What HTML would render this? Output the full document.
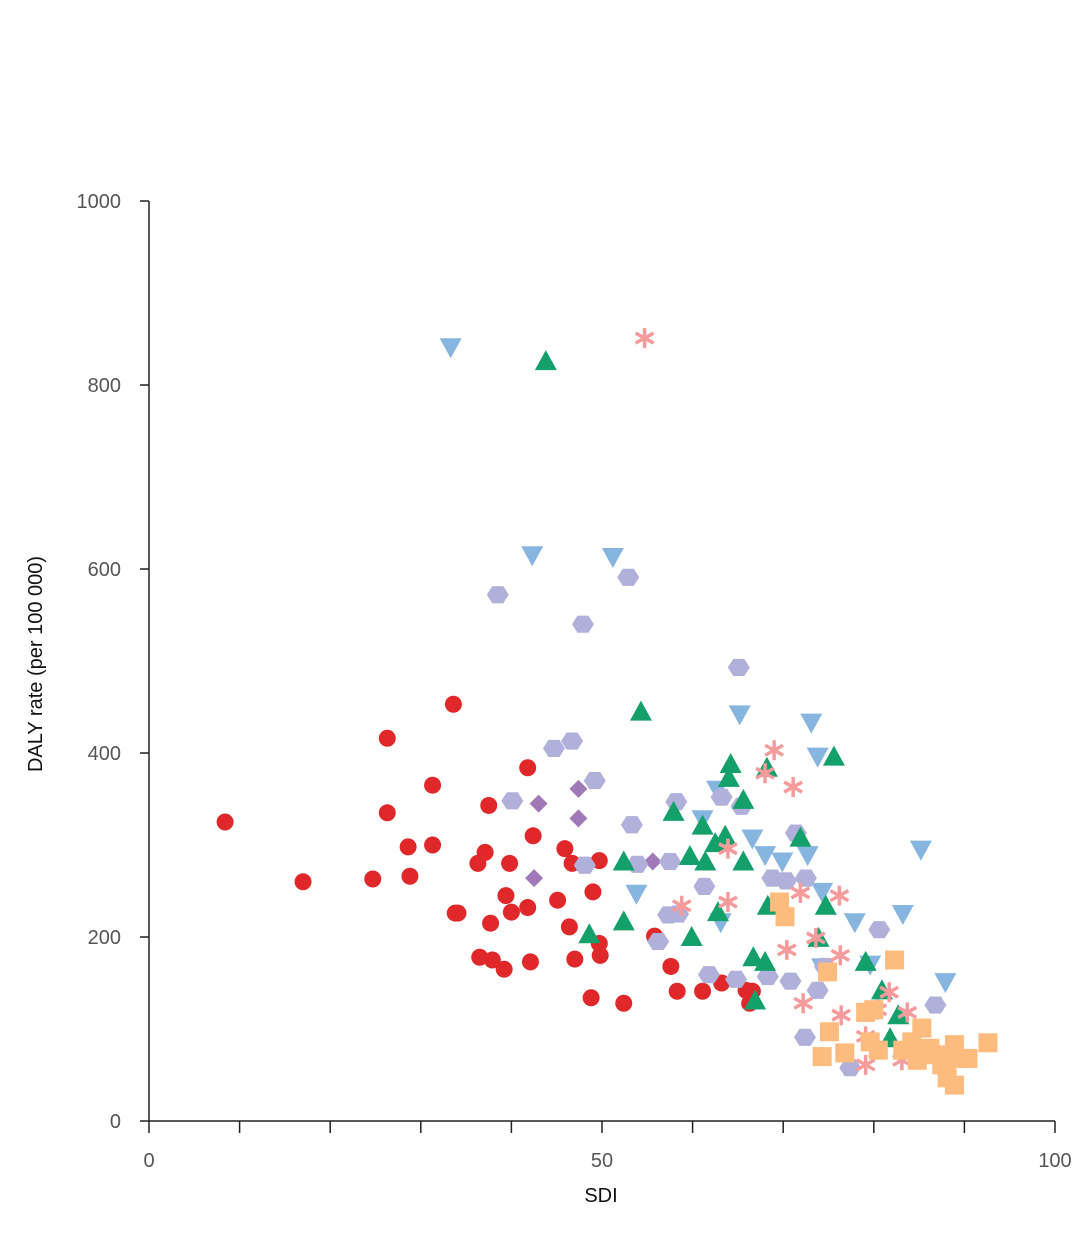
<!DOCTYPE html>
<html><head><meta charset="utf-8"><style>
body{margin:0;background:#fff}
svg{display:block;font-family:"Liberation Sans",sans-serif}
</style></head><body>
<svg id="chart" width="1079" height="1237" viewBox="0 0 1079 1237"></svg>
<script>
const xTicks=[0,10,20,30,40,50,60,70,80,90,100];
const xLabels=[0,50,100];
const yTicks=[0,200,400,600,800,1000];
const redX=[8.4,17.0,24.7,26.3,26.3,28.6,28.8,31.3,31.3,33.6,33.8,34.1,36.3,37.1,37.5,36.5,37.7,37.9,39.2,39.4,39.8,40.0,41.8,41.8,42.1,42.4,45.1,45.9,46.4,46.7,47.0,48.8,49.0,49.7,49.7,49.8,52.4,55.8,57.6,58.3,61.1,63.2,65.9,66.6,66.3];
const redY=[325,260,263,335,416,298,266,365,300,453,226,226,280,292,343,178,215,175,165,245,280,227,384,232,173,310,240,296,211,280,176,134,249,283,193,180,128,201,168,141,141,150,142,141,128];
const purpleX=[43.0,47.4,47.4,42.5,55.6];
const purpleY=[345,361,329,264,282];
const blueX=[33.3,42.3,51.2,53.8,61.1,62.7,63.1,65.2,66.6,68,69.9,73.1,73.8,72.7,74.3,77.9,79.6,74.3,83.2,85.2,87.9];
const blueY=[841,615,613,247,328,360,216,442,307,289,282,433,396,289,249,216,170,167,225,295,151];
const lavX=[38.5,47.9,52.9,44.7,46.7,49.2,40.1,48.1,53.3,53.9,56.2,57.3,58.4,57.5,58.2,61.3,61.8,63.2,65.4,65.1,64.8,68.3,68.8,70.3,71.4,72.5,70.8,73.8,74.6,80.6,72.4,77.4,86.8];
const lavY=[572,540,591,405,413,370,348,278,322,279,195,224,225,282,347,255,159,352,342,493,154,157,264,261,313,264,152,142,168,208,91,58,126];
const greenX=[43.8,54.3,48.6,52.4,52.4,57.9,59.7,59.9,61.1,61.4,62.5,63.6,64.0,64.2,65.6,65.6,62.8,66.7,66.9,68.2,68.3,68,71.9,73.9,74.7,75.6,79.1,80.9,82.7,81.8];
const greenY=[826,445,203,282,217,336,288,200,321,282,302,310,373,388,349,282,227,178,131,384,234,173,308,199,234,396,173,142,115,90];
const pinkX=[54.7,58.8,63.9,63.9,69,71.1,71.9,76.2,70.4,73.6,76.3,72.2,76.4,79.1,79.1,81.7,80.4,83.1,83.7,68];
const pinkY=[851,234,296,238,403,363,248,245,186,199,180,128,115,92,61,140,121,66,118,378];
const orangeX=[69.6,70.2,75.1,74.3,76.8,74.9,82.3,79.1,80.0,80.5,79.6,83.2,84.8,85.3,84.2,86.2,86.8,87.5,88.1,88.9,88.9,89.7,90.4,92.6,87.9];
const orangeY=[238,222,97,70,74,162,175,118,121,77,86,77,66,101,86,79,72,61,47,39,83,68,68,85,66];

const X0=149,X1=1055,Y0=1121,Y1=201;
const sx=v=>X0+(X1-X0)*v/100;
const sy=v=>Y0-(Y0-Y1)*v/1000;
const svg=document.getElementById('chart');
const NS='http://www.w3.org/2000/svg';
function mk(tag,attrs,parent){const e=document.createElementNS(NS,tag);for(const k in attrs)e.setAttribute(k,attrs[k]);(parent||svg).appendChild(e);return e;}

const axes=mk('g',{});


let l=mk('line',{x1:X0,y1:Y1,x2:X0,y2:Y0,stroke:'#222','stroke-width':1.5},axes);


l=mk('line',{x1:X0,y1:Y0,x2:X1,y2:Y0,stroke:'#222','stroke-width':1.5},axes);


yTicks.forEach(v=>{
  const t=mk('line',{x1:X0-9,x2:X0,y1:sy(v),y2:sy(v),stroke:'#222','stroke-width':1.5},axes);
  
  
  const tx=mk('text',{x:121,y:sy(v)+7,'text-anchor':'end','font-size':20,fill:'#555'},axes);
  tx.textContent=v;
  
  
});
xTicks.forEach(v=>{
  const t=mk('line',{x1:sx(v),x2:sx(v),y1:Y0,y2:Y0+12,stroke:'#222','stroke-width':1.5},axes);
  
  
});
xLabels.forEach(v=>{
  const tx=mk('text',{x:sx(v),y:1167,'text-anchor':'middle','font-size':20,fill:'#555'},axes);
  tx.textContent=v;
  
  
});
let tt=mk('text',{x:601,y:1202,'text-anchor':'middle','font-size':20,fill:'#111'},axes);
tt.textContent='SDI';


tt=mk('text',{x:0,y:0,'text-anchor':'middle','font-size':20,fill:'#111',transform:'translate(42,664) rotate(-90)'},axes);
tt.textContent='DALY rate (per 100 000)';



function shape(kind,cx,cy,g){
  let e;
  if(kind==='circle') e=mk('circle',{cx,cy,r:8.5,fill:'#e0282a'},g);
  else if(kind==='diamond') e=mk('polygon',{points:`${cx},${cy-9} ${cx+9},${cy} ${cx},${cy+9} ${cx-9},${cy}`,fill:'#9f79b8'},g);
  else if(kind==='down') e=mk('polygon',{points:`${cx-11},${cy-9} ${cx+11},${cy-9} ${cx},${cy+11}`,fill:'#86b5e0'},g);
  else if(kind==='up') e=mk('polygon',{points:`${cx-11},${cy+9} ${cx+11},${cy+9} ${cx},${cy-11}`,fill:'#13a06b'},g);
  else if(kind==='hex'){const r=11;let p=[];for(let i=0;i<6;i++){const a=Math.PI/3*i;p.push((cx+r*Math.cos(a))+','+(cy+r*0.9*Math.sin(a)));}e=mk('polygon',{points:p.join(' '),fill:'#b0b0da'},g);}
  else if(kind==='ast'){e=mk('path',{d:`M${cx},${cy-10}V${cy+10}M${cx-9},${cy-5}L${cx+9},${cy+5}M${cx-9},${cy+5}L${cx+9},${cy-5}`,stroke:'#f59b9c','stroke-width':3.5,fill:'none'},g);}
  else if(kind==='sq') e=mk('rect',{x:cx-9.5,y:cy-9.5,width:19,height:19,fill:'#fdbb7e'},g);
  
  
}
function series(name,kind,xs,ys){
  const g=mk('g',{});
  
  
  xs.forEach((x,i)=>shape(kind,sx(x),sy(ys[i]),g));
}
series('series-red','circle',redX,redY);
series('series-purple','diamond',purpleX,purpleY);
series('series-blue','down',blueX,blueY);
series('series-lavender','hex',lavX,lavY);
series('series-green','up',greenX,greenY);
series('series-pink','ast',pinkX,pinkY);
series('series-orange','sq',orangeX,orangeY);
</script>
</body></html>
